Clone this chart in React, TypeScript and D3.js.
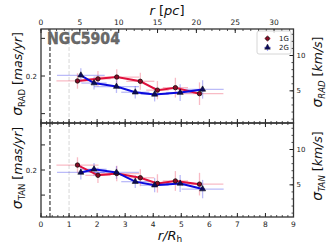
import React, { useEffect, useRef } from "react";
import * as d3 from "d3";

// r / R_h positions and dispersions (km/s)
const radR1G = [1.3, 2.03, 2.7, 3.54, 4.15, 4.79, 5.65];
const radV1G = [6.4, 6.7, 6.95, 6.35, 5.1, 5.45, 4.6];
const radXe1G = [0.75, 0.45, 0.8, 0.5, 0.4, 0.45, 0.85];
const radYe1G = [1.1, 1.1, 1.1, 1.2, 1.3, 1.4, 1.6];

const radR2G = [1.42, 1.89, 2.69, 3.36, 4.05, 4.96, 5.76];
const radV2G = [7.2, 6.1, 5.6, 4.8, 4.5, 4.75, 5.2];
const radXe2G = [0.85, 0.45, 0.8, 0.5, 0.5, 0.5, 0.75];
const radYe2G = [1.0, 0.9, 0.9, 0.9, 1.0, 1.2, 1.3];

const tanR1G = [1.3, 2.03, 2.7, 3.54, 4.15, 4.79, 5.65];
const tanV1G = [7.8, 6.35, 6.6, 6.0, 5.2, 5.55, 5.1];
const tanXe1G = [0.75, 0.45, 0.8, 0.5, 0.4, 0.45, 0.85];
const tanYe1G = [1.1, 1.1, 1.1, 1.2, 1.3, 1.4, 1.6];

const tanR2G = [1.42, 1.89, 2.69, 3.36, 4.05, 4.96, 5.76];
const tanV2G = [6.75, 7.2, 6.75, 5.45, 4.95, 5.2, 4.4];
const tanXe2G = [0.85, 0.45, 0.8, 0.5, 0.5, 0.5, 0.75];
const tanYe2G = [1.0, 0.9, 0.9, 0.9, 1.0, 1.2, 1.3];

const xTicks = [0, 1, 2, 3, 4, 5, 6, 7, 8, 9];
const pcTicks = [0, 5, 10, 15, 20, 25, 30];
const kmsTicks = [5, 10];
const masTicksRad = [0.05, 0.2, 0.35];
const masTicksTan = [0.1, 0.2, 0.3];
const masLabels = [0.2];

const rCluster = 0.32; // black dashed line
const rHalf = 1.0; // grey dashed line

const RED = "#e0103c";
const BLUE = "#0a0adc";
const FONT = "DejaVu Sans";

function drawChart(el: SVGSVGElement) {
    const svg = d3.select(el);
    svg.selectAll("*").remove();

    const left = 41, right = 293.5;
    const panels = [
        { top: 29, bottom: 123, name: "RAD", data: [[radR1G, radV1G, radXe1G, radYe1G], [radR2G, radV2G, radXe2G, radYe2G]], masTicks: masTicksRad },
        { top: 123, bottom: 217, name: "TAN", data: [[tanR1G, tanV1G, tanXe1G, tanYe1G], [tanR2G, tanV2G, tanXe2G, tanYe2G]], masTicks: masTicksTan },
    ];

    const x = d3.scaleLinear().domain([0, 9]).range([left, right]);
    const xpc = d3.scaleLinear().domain([0, 32.5]).range([left, right]);

    panels.forEach((p, pi) => {
        const y = d3.scaleLinear().domain([0.45, 13.75]).range([p.bottom, p.top]);
        const ymas = d3.scaleLinear().domain([0.45 / 35.5, 13.75 / 35.5]).range([p.bottom, p.top]);
        const g = svg.append("g");

        // reference lines
        g.append("line").attr("x1", x(rCluster)).attr("x2", x(rCluster)).attr("y1", p.top).attr("y2", p.bottom)
            .attr("stroke", "#111").attr("stroke-width", 1).attr("stroke-dasharray", "4,2");
        g.append("line").attr("x1", x(rHalf)).attr("x2", x(rHalf)).attr("y1", p.top).attr("y2", p.bottom)
            .attr("stroke", "#d8d8d8").attr("stroke-width", 1).attr("stroke-dasharray", "4,2");

        const colours = [RED, BLUE];
        const errColours = ["rgba(235,60,90,0.35)", "rgba(60,60,235,0.35)"];

        p.data.forEach((s, si) => {
            const [rs, vs, xe, ye] = s;
            rs.forEach((r, i) => {
                g.append("line").attr("x1", x(r - xe[i])).attr("x2", x(r + xe[i])).attr("y1", y(vs[i])).attr("y2", y(vs[i]))
                    .attr("stroke", errColours[si]).attr("stroke-width", 1.3);
                g.append("line").attr("x1", x(r)).attr("x2", x(r)).attr("y1", y(vs[i] - ye[i])).attr("y2", y(vs[i] + ye[i]))
                    .attr("stroke", errColours[si]).attr("stroke-width", 1.3);
            });
        });

        p.data.forEach((s, si) => {
            const [rs, vs] = s;
            const line = d3.line<number>().x((r) => x(r)).y((_, i) => y(vs[i]));
            g.append("path").attr("d", line(rs)).attr("fill", "none").attr("stroke", colours[si]).attr("stroke-width", 2);
        });

        p.data.forEach((s, si) => {
            const [rs, vs] = s;
            rs.forEach((r, i) => {
                if (si === 0) {
                    g.append("circle").attr("cx", x(r)).attr("cy", y(vs[i])).attr("r", 2.2)
                        .attr("fill", "#8a0a25").attr("stroke", "#111").attr("stroke-width", 0.8);
                } else {
                    g.append("path").attr("d", d3.symbol(d3.symbolTriangle, 16)())
                        .attr("transform", `translate(${x(r)},${y(vs[i])})`)
                        .attr("fill", "#0a0a60").attr("stroke", "#111").attr("stroke-width", 0.6);
                }
            });
        });

        // frame ticks: x (inward on both edges)
        const tickCol = "#222";
        const minorX = d3.range(0, 9.001, 0.2);
        minorX.forEach((t) => {
            g.append("line").attr("x1", x(t)).attr("x2", x(t)).attr("y1", p.bottom).attr("y2", p.bottom - 2).attr("stroke", tickCol).attr("stroke-width", 0.8);
            if (pi === 1) g.append("line").attr("x1", x(t)).attr("x2", x(t)).attr("y1", p.top).attr("y2", p.top + 2).attr("stroke", tickCol).attr("stroke-width", 0.8);
        });
        xTicks.forEach((t) => {
            g.append("line").attr("x1", x(t)).attr("x2", x(t)).attr("y1", p.bottom).attr("y2", p.bottom - 4).attr("stroke", tickCol).attr("stroke-width", 1);
            if (pi === 1) g.append("line").attr("x1", x(t)).attr("x2", x(t)).attr("y1", p.top).attr("y2", p.top + 4).attr("stroke", tickCol).attr("stroke-width", 1);
        });
        if (pi === 0) {
            d3.range(0, 32.5, 1).forEach((t) => {
                g.append("line").attr("x1", xpc(t)).attr("x2", xpc(t)).attr("y1", p.top).attr("y2", p.top + 2).attr("stroke", tickCol).attr("stroke-width", 0.8);
            });
            pcTicks.forEach((t) => {
                g.append("line").attr("x1", xpc(t)).attr("x2", xpc(t)).attr("y1", p.top).attr("y2", p.top + 4).attr("stroke", tickCol).attr("stroke-width", 1);
                g.append("text").attr("x", xpc(t)).attr("y", p.top - 4).attr("text-anchor", "middle")
                    .attr("font-family", FONT).attr("font-size", 7.5).attr("fill", "#222").text(t);
            });
        } else {
            xTicks.forEach((t) => {
                g.append("text").attr("x", x(t)).attr("y", p.bottom + 10).attr("text-anchor", "middle")
                    .attr("font-family", FONT).attr("font-size", 7.5).attr("fill", "#222").text(t);
            });
        }

        // right axis (km/s)
        d3.range(1, 14, 1).forEach((t) => {
            g.append("line").attr("x1", right).attr("x2", right - 2).attr("y1", y(t)).attr("y2", y(t)).attr("stroke", tickCol).attr("stroke-width", 0.8);
        });
        kmsTicks.forEach((t) => {
            g.append("line").attr("x1", right).attr("x2", right - 4).attr("y1", y(t)).attr("y2", y(t)).attr("stroke", tickCol).attr("stroke-width", 1);
            g.append("text").attr("x", right + 3).attr("y", y(t) + 2.5)
                .attr("font-family", FONT).attr("font-size", 7).attr("fill", "#222").text(t);
        });

        // left axis (mas/yr)
        p.masTicks.forEach((t) => {
            g.append("line").attr("x1", left).attr("x2", left + 4).attr("y1", ymas(t)).attr("y2", ymas(t)).attr("stroke", tickCol).attr("stroke-width", 1);
        });
        masLabels.forEach((t) => {
            g.append("text").attr("x", left - 4).attr("y", ymas(t) + 2.5).attr("text-anchor", "end")
                .attr("font-family", FONT).attr("font-size", 7).attr("fill", "#222").text(t);
        });

        // frame
        g.append("rect").attr("x", left).attr("y", p.top).attr("width", right - left).attr("height", p.bottom - p.top)
            .attr("fill", "none").attr("stroke", "#333").attr("stroke-width", 1.3);

        // axis labels
        const mid = (p.top + p.bottom) / 2;
        const lt = g.append("text").attr("transform", `translate(22,${mid - 2}) rotate(-90)`).attr("text-anchor", "middle")
            .attr("font-family", FONT).attr("font-size", 12.5).attr("fill", "#111");
        lt.append("tspan").attr("font-style", "italic").attr("font-size", 14).text("σ");
        lt.append("tspan").attr("font-size", 8.5).attr("dy", 3).text(p.name);
        lt.append("tspan").attr("dy", -3).text(" [");
        lt.append("tspan").attr("font-style", "italic").text("mas/yr");
        lt.append("tspan").text("]");

        const rt = g.append("text").attr("transform", `translate(322,${mid - 4}) rotate(-90)`).attr("text-anchor", "middle")
            .attr("font-family", FONT).attr("font-size", 12.5).attr("fill", "#111");
        rt.append("tspan").attr("font-style", "italic").attr("font-size", 14).text("σ");
        rt.append("tspan").attr("font-size", 8.5).attr("font-style", "italic").attr("dy", 3).text(p.name);
        rt.append("tspan").attr("dy", -3).text(" [");
        rt.append("tspan").attr("font-style", "italic").text("km/s");
        rt.append("tspan").text("]");
    });

    // cluster name
    svg.append("text").attr("x", 47).attr("y", 44).attr("font-family", FONT).attr("font-weight", "bold")
        .attr("font-size", 16).attr("textLength", 73).attr("lengthAdjust", "spacingAndGlyphs")
        .attr("fill", "#6a6a6a").attr("stroke", "#555").attr("stroke-width", 0.4).text("NGC5904");

    // top label
    const tl = svg.append("text").attr("x", 167).attr("y", 15).attr("text-anchor", "middle")
        .attr("font-family", FONT).attr("font-size", 13).attr("fill", "#111");
    tl.append("tspan").attr("font-style", "italic").text("r");
    tl.append("tspan").text(" [");
    tl.append("tspan").attr("font-style", "italic").text("pc");
    tl.append("tspan").text("]");

    // bottom label
    const bl = svg.append("text").attr("x", 170).attr("y", 240).attr("text-anchor", "middle")
        .attr("font-family", FONT).attr("font-size", 13).attr("fill", "#111");
    bl.append("tspan").attr("font-style", "italic").text("r/R");
    bl.append("tspan").attr("font-size", 9).attr("dy", 1.5).text("h");

    // legend
    const lg = svg.append("g");
    lg.append("rect").attr("x", 257).attr("y", 31).attr("width", 34).attr("height", 23).attr("rx", 2)
        .attr("fill", "white").attr("fill-opacity", 0.8).attr("stroke", "#ccc").attr("stroke-width", 0.8);
    const items = [["1G", RED, "rgba(235,60,90,0.45)"], ["2G", BLUE, "rgba(60,60,235,0.45)"]];
    items.forEach(([label, col, err], i) => {
        const cy = 38.5 + i * 9;
        lg.append("line").attr("x1", 264).attr("x2", 271).attr("y1", cy).attr("y2", cy).attr("stroke", err).attr("stroke-width", 1.2);
        lg.append("line").attr("x1", 267.5).attr("x2", 267.5).attr("y1", cy - 3.5).attr("y2", cy + 3.5).attr("stroke", err).attr("stroke-width", 1.2);
        if (i === 0) {
            lg.append("circle").attr("cx", 267.5).attr("cy", cy).attr("r", 2).attr("fill", "#8a0a25").attr("stroke", "#111").attr("stroke-width", 0.7);
        } else {
            lg.append("path").attr("d", d3.symbol(d3.symbolTriangle, 14)()).attr("transform", `translate(267.5,${cy})`)
                .attr("fill", "#0a0a60").attr("stroke", "#111").attr("stroke-width", 0.5);
        }
        lg.append("text").attr("x", 279).attr("y", cy + 2.5).attr("font-family", FONT).attr("font-size", 7)
            .attr("fill", "#222").text(label);
    });
}

export default function App() {
    const ref = useRef<SVGSVGElement>(null);
    useEffect(() => {
        if (ref.current) drawChart(ref.current);
    }, []);
    return (
        <svg ref={ref} width={327} height={245} style={{ position: "absolute", left: 0, top: 0, background: "white" }} />
    );
}
